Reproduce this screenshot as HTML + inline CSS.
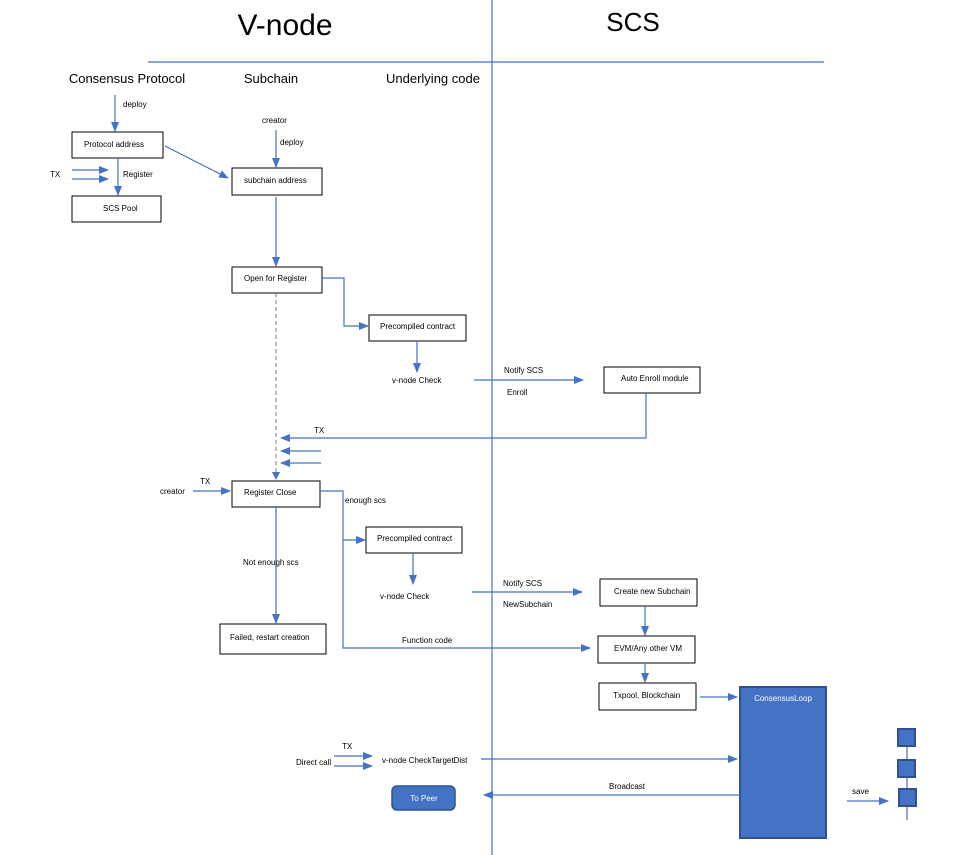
<!DOCTYPE html>
<html><head><meta charset="utf-8"><style>
html,body{margin:0;padding:0;background:#fff}
svg{display:block}
text{font-family:"Liberation Sans",sans-serif;fill:#000}
.s{font-size:8px}
.h{font-size:13px}
.b{fill:#fff;stroke:#000;stroke-width:1}
.l{stroke:#4472c4;stroke-width:1.2;fill:none}
</style></head><body>
<svg width="966" height="855" viewBox="0 0 966 855">
<defs><marker id="a" markerWidth="10" markerHeight="8" refX="9" refY="4" orient="auto" markerUnits="userSpaceOnUse"><path d="M0,0 L10,4 L0,8 z" fill="#4472c4"/></marker></defs>
<text x="285" y="35" font-size="30" text-anchor="middle">V-node</text>
<text x="633" y="31" font-size="26" text-anchor="middle">SCS</text>
<line x1="492" y1="0" x2="492" y2="855" class="l"/>
<line x1="148" y1="62" x2="824" y2="62" class="l"/>
<text x="127" y="83" class="h" text-anchor="middle">Consensus Protocol</text>
<text x="271" y="83" class="h" text-anchor="middle">Subchain</text>
<text x="433" y="83" class="h" text-anchor="middle">Underlying code</text>

<rect x="72" y="132" width="91" height="26" class="b"/><text x="84" y="147" class="s">Protocol address</text>
<rect x="72" y="196" width="89" height="26" class="b"/><text x="103" y="211" class="s">SCS Pool</text>
<rect x="232" y="168" width="90" height="27" class="b"/><text x="244" y="183" class="s">subchain address</text>
<rect x="232" y="267" width="90" height="26" class="b"/><text x="244" y="281" class="s">Open for Register</text>
<rect x="369" y="315" width="97" height="26" class="b"/><text x="380" y="329" class="s">Precompiled contract</text>
<rect x="604" y="367" width="96" height="26" class="b"/><text x="621" y="381" class="s">Auto Enroll module</text>
<rect x="232" y="481" width="88" height="26" class="b"/><text x="244" y="495" class="s">Register Close</text>
<rect x="366" y="527" width="96" height="26" class="b"/><text x="377" y="541" class="s">Precompiled contract</text>
<rect x="600" y="579" width="97" height="27" class="b"/><text x="614" y="594" class="s">Create new Subchain</text>
<rect x="598" y="636" width="97" height="27" class="b"/><text x="614" y="651" class="s">EVM/Any other VM</text>
<rect x="599" y="683" width="97" height="27" class="b"/><text x="613" y="698" class="s">Txpool, Blockchain</text>
<rect x="220" y="624" width="106" height="30" class="b"/><text x="230" y="640" class="s">Failed, restart creation</text>
<rect x="740" y="687" width="86" height="151" fill="#4472c4" stroke="#2f528f" stroke-width="2"/>
<text x="783" y="701" class="s" text-anchor="middle" style="fill:#fff">ConsensusLoop</text>
<rect x="392" y="786" width="63" height="24" rx="5" fill="#4472c4" stroke="#2f528f" stroke-width="1.5"/>
<text x="424" y="801" class="s" text-anchor="middle" style="fill:#fff">To Peer</text>
<line x1="907" y1="729" x2="907" y2="820" stroke="#2f528f" stroke-width="1"/>
<rect x="898" y="729" width="17" height="17" fill="#4472c4" stroke="#2f528f" stroke-width="2"/>
<rect x="898" y="760" width="17" height="17" fill="#4472c4" stroke="#2f528f" stroke-width="2"/>
<rect x="899" y="789" width="17" height="17" fill="#4472c4" stroke="#2f528f" stroke-width="2"/>

<g class="l" marker-end="url(#a)">
<line x1="115" y1="95" x2="115" y2="131"/>
<line x1="118" y1="158" x2="118" y2="195"/>
<line x1="72" y1="170" x2="108" y2="170"/>
<line x1="72" y1="179" x2="108" y2="179"/>
<line x1="165" y1="146" x2="228" y2="178"/>
<line x1="276" y1="130" x2="276" y2="167"/>
<line x1="276" y1="197" x2="276" y2="266"/>
<polyline points="322,278 344,278 344,326 368,326"/>
<line x1="417" y1="341" x2="417" y2="372"/>
<line x1="474" y1="380" x2="583" y2="380"/>
<polyline points="646,393 646,438 281,438"/>
<line x1="321" y1="451" x2="281" y2="451"/>
<line x1="321" y1="463" x2="281" y2="463"/>
<line x1="193" y1="491" x2="230" y2="491"/>
<line x1="276" y1="507" x2="276" y2="623"/>
<polyline points="320,491 343,491 343,648 590,648"/>
<line x1="343" y1="540" x2="365" y2="540"/>
<line x1="413" y1="553" x2="413" y2="584"/>
<line x1="472" y1="592" x2="582" y2="592"/>
<line x1="645" y1="606" x2="645" y2="635"/>
<line x1="645" y1="663" x2="645" y2="682"/>
<line x1="700" y1="697" x2="737" y2="697"/>
<line x1="334" y1="756" x2="372" y2="756"/>
<line x1="334" y1="766" x2="372" y2="766"/>
<line x1="481" y1="759" x2="737" y2="759"/>
<line x1="740" y1="795" x2="484" y2="795"/>
<line x1="847" y1="801" x2="888" y2="801"/>
</g>
<line x1="276" y1="293" x2="276" y2="472" stroke="#777" stroke-width="1" stroke-dasharray="4,3"/>
<path d="M272,472 L276,480 L280,472 z" fill="#4472c4"/>

<g class="s">
<text x="123" y="107">deploy</text>
<text x="123" y="177">Register</text>
<text x="50" y="177">TX</text>
<text x="262" y="123">creator</text>
<text x="280" y="145">deploy</text>
<text x="392" y="383">v-node Check</text>
<text x="504" y="373">Notify SCS</text>
<text x="507" y="395">Enroll</text>
<text x="314" y="433">TX</text>
<text x="160" y="494">creator</text>
<text x="200" y="484">TX</text>
<text x="345" y="503">enough scs</text>
<text x="243" y="565">Not enough scs</text>
<text x="380" y="599">v-node Check</text>
<text x="503" y="586">Notify SCS</text>
<text x="503" y="607">NewSubchain</text>
<text x="402" y="643">Function code</text>
<text x="342" y="749">TX</text>
<text x="296" y="765">Direct call</text>
<text x="382" y="763">v-node CheckTargetDist</text>
<text x="609" y="789">Broadcast</text>
<text x="852" y="794">save</text>
</g>
</svg>
</body></html>
